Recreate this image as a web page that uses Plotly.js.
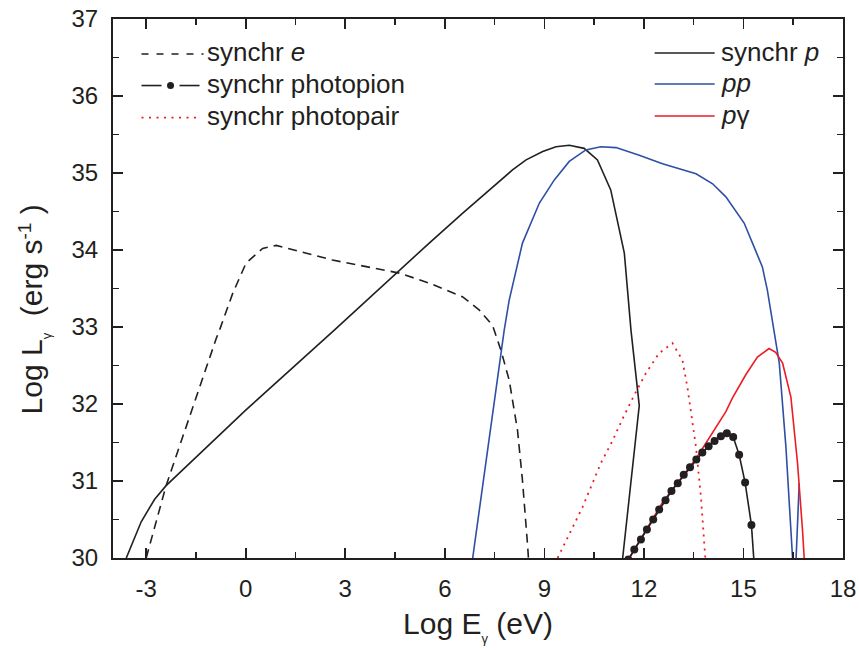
<!DOCTYPE html>
<html>
<head>
<meta charset="utf-8">
<script src="https://cdn.plot.ly/plotly-3.0.1.min.js"></script>
<style>html,body{margin:0;padding:0;background:#fff;}#chart{width:859px;height:653px;}</style>
</head>
<body>
<div id="chart"></div>
<script>
// ---- data (Log E in eV, Log L in erg/s) ----
const synchrE_x = [-3.0, -2.40, -0.89, -0.79, -0.39, 0.01, 0.51, 0.92, 2.61, 4.63, 5.53, 6.54, 7.04, 7.44, 7.69, 7.94, 8.19, 8.34, 8.49, 8.52];
const synchrE_y = [30.0, 30.94, 32.85, 32.96, 33.44, 33.83, 34.02, 34.06, 33.87, 33.70, 33.57, 33.39, 33.22, 33.02, 32.70, 32.31, 31.66, 31.01, 30.19, 30.0];

const synchrP_x = [-3.6, -3.15, -2.75, -2.40, 0.0, 2.67, 5.53, 6.54, 8.04, 8.45, 8.95, 9.35, 9.75, 10.20, 10.60, 11.0, 11.41, 11.61, 11.86, 11.36];
const synchrP_y = [30.0, 30.47, 30.76, 30.94, 31.92, 32.96, 34.09, 34.48, 35.04, 35.17, 35.28, 35.34, 35.36, 35.32, 35.17, 34.78, 33.96, 32.96, 31.98, 30.0];

const pp_x = [6.84, 7.69, 7.79, 7.94, 8.34, 8.85, 9.30, 9.75, 10.25, 10.70, 11.16, 11.86, 12.56, 13.57, 14.07, 14.47, 15.02, 15.32, 15.57, 15.72, 15.92, 16.08, 16.28, 16.48, 16.52, 16.68];
const pp_y = [30.0, 32.70, 32.96, 33.35, 34.09, 34.61, 34.91, 35.15, 35.30, 35.34, 35.33, 35.23, 35.12, 34.99, 34.86, 34.69, 34.35, 34.04, 33.78, 33.48, 32.96, 32.53, 31.44, 30.0, 29.3, 30.97];

const pgamma_x = [11.56, 12.56, 13.57, 14.17, 14.47, 14.67, 15.07, 15.42, 15.77, 15.97, 16.18, 16.43, 16.63, 16.78, 16.83];
const pgamma_y = [30.0, 30.72, 31.29, 31.70, 31.90, 32.08, 32.38, 32.61, 32.72, 32.67, 32.53, 32.09, 31.23, 30.36, 30.0];

const photopair_x = [9.40, 10.15, 10.70, 10.86, 11.05, 11.36, 11.69, 12.06, 12.46, 12.86, 13.16, 13.31, 13.46, 13.57, 13.72, 13.82, 13.85];
const photopair_y = [30.0, 30.66, 31.23, 31.36, 31.52, 31.81, 32.10, 32.40, 32.66, 32.79, 32.57, 32.22, 31.80, 31.44, 30.79, 30.19, 30.0];

const photopion_x = [11.53, 11.71, 11.91, 12.09, 12.28, 12.46, 12.65, 12.83, 13.02, 13.20, 13.39, 13.58, 13.76, 13.95, 14.13, 14.32, 14.50, 14.69, 14.87, 15.05, 15.24];
const photopion_y = [29.98, 30.11, 30.24, 30.37, 30.50, 30.63, 30.75, 30.87, 30.97, 31.08, 31.18, 31.28, 31.37, 31.45, 31.52, 31.58, 31.62, 31.57, 31.34, 30.98, 30.43];
const photopionTail_x = [15.24, 15.31];
const photopionTail_y = [30.43, 30.0];

const xTickVals = [-3, 0, 3, 6, 9, 12, 15, 18];
const xTickText = ['-3', '0', '3', '6', '9', '12', '15', '18'];
const yTickVals = [30, 31, 32, 33, 34, 35, 36, 37];
const yTickText = ['30', '31', '32', '33', '34', '35', '36', '37'];

// ---- styling ----
const INK = '#231f20';
const BLUE = '#2e4fa3';
const RED = '#ed1c24';
const FONT = 'Liberation Sans, Arial, Helvetica, sans-serif';

const traces = [
  {x: synchrE_x, y: synchrE_y, mode: 'lines', name: 'synchr e',
   line: {color: INK, width: 1.6, dash: '9px,6px'}},
  {x: synchrP_x, y: synchrP_y, mode: 'lines', name: 'synchr p',
   line: {color: INK, width: 1.6}},
  {x: pp_x, y: pp_y, mode: 'lines', name: 'pp',
   line: {color: BLUE, width: 1.6}},
  {x: photopair_x, y: photopair_y, mode: 'lines', name: 'synchr photopair',
   line: {color: RED, width: 1.8, dash: '2px,5px'}},
  {x: pgamma_x, y: pgamma_y, mode: 'lines', name: 'pγ',
   line: {color: RED, width: 1.6}},
  {x: photopionTail_x, y: photopionTail_y, mode: 'lines', showlegend: false,
   line: {color: INK, width: 1.6}},
  {x: photopion_x, y: photopion_y, mode: 'lines+markers', name: 'synchr photopion',
   line: {color: INK, width: 1.6},
   marker: {color: INK, size: 8, symbol: 'circle'}}
];

// ---- hand-drawn legend (paper coordinates) ----
const PW = 729.8, PH = 538.7, PL = 113.5, PT = 19;
const px = v => (v - PL) / PW;
const py = v => 1 - (v - PT) / PH;

const shapes = [
  {type: 'line', xref: 'paper', yref: 'paper', x0: px(142), x1: px(204), y0: py(54), y1: py(54),
   line: {color: INK, width: 1.6, dash: '7px,8px'}},
  {type: 'line', xref: 'paper', yref: 'paper', x0: px(142), x1: px(162), y0: py(85.5), y1: py(85.5),
   line: {color: INK, width: 1.6}},
  {type: 'line', xref: 'paper', yref: 'paper', x0: px(180), x1: px(200), y0: py(85.5), y1: py(85.5),
   line: {color: INK, width: 1.6}},
  {type: 'circle', xref: 'paper', yref: 'paper', x0: px(167.5), x1: px(174.5), y0: py(89), y1: py(82),
   fillcolor: INK, line: {color: INK, width: 0}},
  {type: 'line', xref: 'paper', yref: 'paper', x0: px(142), x1: px(200), y0: py(117.5), y1: py(117.5),
   line: {color: RED, width: 1.8, dash: '2px,5.5px'}},
  {type: 'line', xref: 'paper', yref: 'paper', x0: px(655), x1: px(715), y0: py(53), y1: py(53),
   line: {color: INK, width: 1.6}},
  {type: 'line', xref: 'paper', yref: 'paper', x0: px(655), x1: px(715), y0: py(84), y1: py(84),
   line: {color: BLUE, width: 1.6}},
  {type: 'line', xref: 'paper', yref: 'paper', x0: px(655), x1: px(715), y0: py(116), y1: py(116),
   line: {color: RED, width: 1.6}}
];

const legFont = {family: FONT, size: 26, color: INK};
const ann = (x, y, text) => ({xref: 'paper', yref: 'paper', x: px(x), y: py(y), text: text,
  showarrow: false, xanchor: 'left', yanchor: 'middle', font: legFont});
const annotations = [
  ann(205, 52, 'synchr <i>e</i>'),
  ann(205, 84, 'synchr photopion'),
  ann(205, 116, 'synchr photopair'),
  ann(719, 51.5, 'synchr <i>p</i>'),
  ann(719, 82.5, '<i>pp</i>'),
  ann(719, 115, '<i>p</i>γ')
];

const axisCommon = {
  showgrid: false, zeroline: false, showline: true, linecolor: INK, linewidth: 2,
  mirror: 'ticks', ticks: 'inside', ticklen: 10, tickwidth: 1.6, tickcolor: INK,
  tickfont: {family: FONT, size: 24, color: INK}, tickmode: 'array'
};

const layout = {
  width: 859, height: 653,
  margin: {l: 113, r: 16, t: 19, b: 95},
  paper_bgcolor: '#ffffff', plot_bgcolor: '#ffffff',
  showlegend: false,
  font: {family: FONT, color: INK},
  xaxis: Object.assign({}, axisCommon, {
    range: [-4, 18], tickvals: xTickVals, ticktext: xTickText, ticklabelstandoff: 8,
    minor: {tickmode: 'linear', tick0: 0, dtick: 1.5, ticks: 'inside', ticklen: 6, tickwidth: 1.6, tickcolor: INK},
    title: {text: 'Log E<span style="font-size:13px;baseline-shift:-9px">γ</span> (eV)', font: {family: FONT, size: 30, color: INK}, standoff: 12}
  }),
  yaxis: Object.assign({}, axisCommon, {
    range: [30, 37], tickvals: yTickVals, ticktext: yTickText, ticklabelstandoff: 8,
    minor: {tickmode: 'linear', tick0: 0, dtick: 0.5, ticks: 'inside', ticklen: 6, tickwidth: 1.6, tickcolor: INK},
    title: {text: 'Log L<span style="font-size:13px;baseline-shift:-9px">γ</span>&nbsp;&nbsp;(erg s<span style="font-size:19px;baseline-shift:11px">-1</span>&nbsp;)&nbsp;&nbsp;&nbsp;&nbsp;&nbsp;', font: {family: FONT, size: 30, color: INK}, standoff: 20}
  }),
  shapes: shapes,
  annotations: annotations
};

Plotly.newPlot('chart', traces, layout, {displayModeBar: false, staticPlot: true});
</script>
</body>
</html>
